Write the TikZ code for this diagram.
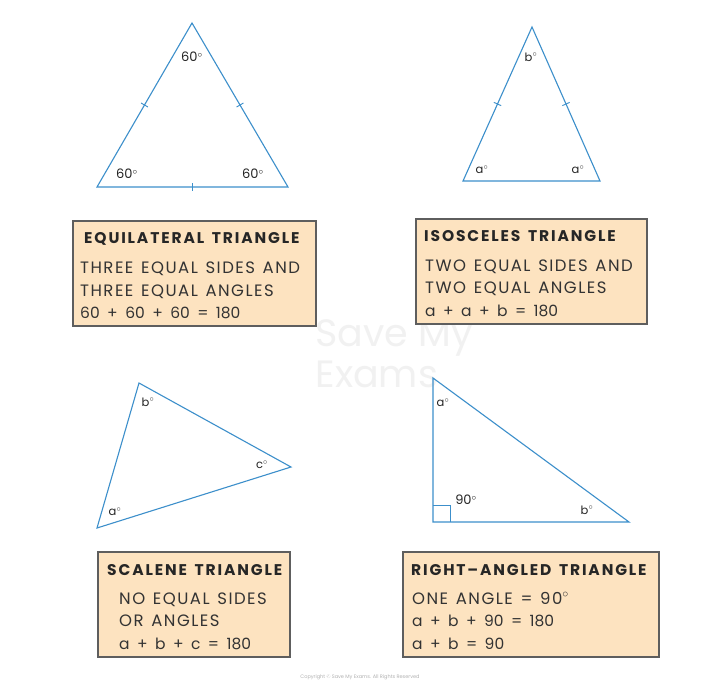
\documentclass[tikz,border=0pt]{standalone}
\usepackage{fontspec}
\setmainfont{Poppins}
\newfontfamily\cardfont[LetterSpace=9, WordSpace=1.3]{Poppins}
\newfontfamily\headfont[LetterSpace=12, WordSpace=1.5]{Poppins}
\newfontfamily\sumfont[WordSpace=1.8]{Poppins}
\usetikzlibrary{calc}
\definecolor{triblue}{HTML}{3C8FCB}
\definecolor{cardfill}{HTML}{FDE3C0}
\definecolor{cardline}{HTML}{5E5E5E}
\definecolor{markgray}{HTML}{F1F1F1}
\tikzset{
  tri/.style={draw=triblue, line width=1.1pt, line join=miter},
  card/.style={draw=cardline, fill=cardfill, line width=1.1pt},
  head/.style={anchor=base west, inner sep=0pt, font=\headfont\fontsize{15.5}{17}\selectfont\bfseries, text=black!85},
  body/.style={anchor=base west, inner sep=0pt, font=\cardfont\fontsize{16.5}{18}\selectfont, text=black!80},
  sum/.style={anchor=base west, inner sep=0pt, font=\sumfont\fontsize{15.5}{17}\selectfont, text=black!80},
  ang/.style={inner sep=0pt, font=\fontsize{13}{15}\selectfont, text=black!85},
  angs/.style={inner sep=0pt, font=\fontsize{11.5}{13}\selectfont, text=black!85}
}
\newcommand{\dg}{$^{\circ}$}
\newcommand{\sidetick}[2]{%
  \draw[tri, line width=0.9pt] ($($(#1)!0.5!(#2)$)!4pt!90:(#2)$) -- ($($(#1)!0.5!(#2)$)!4pt!-90:(#2)$);}

\begin{document}
\begin{tikzpicture}[x=1pt, y=-1pt]
  \useasboundingbox[fill=white] (0,0) rectangle (720,691);
  %watermark
  \node[text=markgray, font=\fontsize{38}{38}\selectfont, anchor=west] (wm1) at (312,338) {Save My};
  \node[text=markgray, font=\fontsize{38}{38}\selectfont, anchor=west] (wm2) at (312,374) {Exams};
  \node[text=black!30, font=\fontsize{5}{6}\selectfont] (copy) at (360,677) {Copyright © Save My Exams. All Rights Reserved};

  %equilateral
  \coordinate (EA) at (192,23); \coordinate (EB) at (97,187); \coordinate (EC) at (288,187);
  \draw[tri] (EA)--(EB)--(EC)--cycle;
  \sidetick{EA}{EB} \sidetick{EB}{EC} \sidetick{EC}{EA}
  \node[ang] (eangA) at (192,57) {60\dg};
  \node[ang] (eangB) at (127,174) {60\dg};
  \node[ang] (eangC) at (253,174) {60\dg};
  \draw[card] (73,221) rectangle (316,326);
  \node[head] (ehead) at (84,243) {EQUILATERAL TRIANGLE};
  \node[body] (e1) at (80,273) {THREE EQUAL SIDES AND};
  \node[body] (e2) at (80,296) {THREE EQUAL ANGLES};
  \node[sum] (e3) at (80,318) {60 + 60 + 60 = 180};

  %isosceles
  \coordinate (IA) at (532,27); \coordinate (IB) at (463,181); \coordinate (IC) at (600,181);
  \draw[tri] (IA)--(IB)--(IC)--cycle;
  \sidetick{IA}{IB} \sidetick{IC}{IA}
  \node[angs] (iangA) at (531,57) {b\dg};
  \node[angs] (iangB) at (482,170) {a\dg};
  \node[angs] (iangC) at (578,170) {a\dg};
  \draw[card] (416,219) rectangle (647,324);
  \node[head] (ihead) at (424,241) {ISOSCELES TRIANGLE};
  \node[body] (i1) at (425,271) {TWO EQUAL SIDES AND};
  \node[body] (i2) at (425,293) {TWO EQUAL ANGLES};
  \node[sum] (i3) at (425,316) {a + a + b = 180};

  %scalene
  \coordinate (SA) at (97,528); \coordinate (SB) at (139,383); \coordinate (SC) at (291,467);
  \draw[tri] (SA)--(SB)--(SC)--cycle;
  \node[angs] (sangA) at (115,512) {a\dg};
  \node[angs] (sangB) at (148,402) {b\dg};
  \node[angs] (sangC) at (262,465) {c\dg};
  \draw[card] (98,552) rectangle (290,657);
  \node[head] (shead) at (107,575) {SCALENE TRIANGLE};
  \node[body] (s1) at (119,604) {NO EQUAL SIDES};
  \node[body] (s2) at (119,626) {OR ANGLES};
  \node[sum] (s3) at (119,649) {a + b + c = 180};

  %right-angled
  \coordinate (RA) at (433,378); \coordinate (RC) at (433,522); \coordinate (RB) at (629,522);
  \draw[tri] (RA)--(RC)--(RB)--cycle;
  \draw[tri, line width=0.9pt] ($(RC)+(0,-17)$) -| ($(RC)+(17,0)$);
  \node[angs] (rangA) at (443,403) {a\dg};
  \node[ang] (rangC) at (466,500) {90\dg};
  \node[angs] (rangB) at (587,510) {b\dg};
  \draw[card] (403,552) rectangle (659,657);
  \node[head] (rhead) at (411,575) {RIGHT–ANGLED TRIANGLE};
  \node[body] (r1) at (412,604) {ONE ANGLE = 90\dg};
  \node[sum] (r2) at (412,626) {a + b + 90 = 180};
  \node[sum] (r3) at (412,649) {a + b = 90};
\end{tikzpicture}
\end{document}
